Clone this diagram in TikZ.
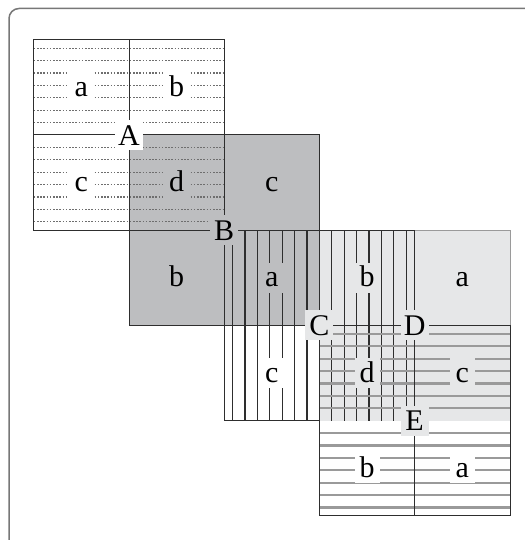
\documentclass[tikz,border=0pt]{standalone}
\usepackage{fontspec}
\setmainfont{Liberation Serif}
\definecolor{dgray}{HTML}{BDBEC0}
\definecolor{lgray}{HTML}{E6E7E8}
\definecolor{edge}{HTML}{2E2E2E}
\definecolor{hatchA}{HTML}{6E6E6E}
\definecolor{hatchC}{HTML}{9A9A9A}
\definecolor{framecol}{HTML}{777777}
\begin{document}
\begin{tikzpicture}[x=1pt,y=-1pt,
  edgeline/.style={draw=edge, line width=1pt},
  lightedge/.style={draw=hatchC, line width=0.8pt},
  dotline/.style={draw=hatchA, line width=1.3pt, dash pattern=on 1.6pt off 1.6pt},
  vline/.style={draw=edge, line width=1.2pt},
  hline/.style={draw=hatchC, line width=2.2pt},
  lbl/.style={inner sep=0pt, minimum width=25pt, minimum height=30pt, text height=18pt, text depth=0pt, font=\fontsize{30}{32}\selectfont},
  caplbl/.style={lbl, minimum width=28pt, minimum height=30pt, text height=20.5pt},
]
\useasboundingbox (0,0) rectangle (524,540);
\draw[framecol, line width=1.5pt, rounded corners=10pt] (9,541) -- (9,8.5) -- (525,8.5);
% fills
\fill[dgray] (129,135) rectangle (319.4,325.4);
\fill[lgray] (319.4,230.2) rectangle (510,420.6);
% square 1: dotted horizontal hatching
\foreach \k in {-7,-6,-5,-4,-3,-2,-1,1,2,3,4,5,6,7}
  \draw[dotline] (33.8,{135+12.4*\k}) -- (224.2,{135+12.4*\k});
\draw[edgeline] (33.8,39.8) rectangle (224.2,230.2);
\draw[edgeline] (33.8,135) -- (224.2,135) (129,39.8) -- (129,230.2);
% square 2
\draw[edgeline] (129,135) rectangle (319.4,325.4);
\draw[edgeline] (129,230.2) -- (319.4,230.2) (224.2,135) -- (224.2,325.4);
% square 3: vertical hatching
\foreach \k in {-7,-6,-5,-4,-3,-2,-1,1,2,3,4,5,6,7}
  \draw[vline] ({319.4+12.4*\k},230.2) -- ({319.4+12.4*\k},420.6);
\draw[edgeline] (319.4,420.6) -- (224.2,420.6) -- (224.2,230.2) -- (414.6,230.2) -- (414.6,420.6);
\draw[edgeline] (224.2,325.4) -- (414.6,325.4) (319.4,230.2) -- (319.4,420.6);
% square 4
\draw[lightedge] (414.6,230.2) -- (510,230.2) -- (510,325.4);
\draw[edgeline] (319.4,325.4) -- (510,325.4) (414.6,230.2) -- (414.6,420.6);
% square 5: grey horizontal hatching
\foreach \k in {-7,-6,-5,-4,-3,-2,-1,1,2,3,4,5,6,7}
  \draw[hline] (319.4,{420.6+12.4*\k}) -- (510,{420.6+12.4*\k});
\draw[edgeline] (319.4,325.4) rectangle (510,515.8);
\draw[edgeline] (414.6,325.4) -- (414.6,515.8);
% centre labels
\node[caplbl, fill=white] (A) at (129,135) {A};
\node[caplbl, fill=dgray] (B) at (224.2,230.2) {B};
\node[caplbl, fill=lgray] (C) at (319.4,325.4) {C};
\node[caplbl, fill=lgray] (D) at (414.6,325.4) {D};
\node[caplbl, fill=lgray] (E) at (414.6,420.6) {E};
% quadrant labels
\node[lbl, fill=white] (s1a) at (81.4,87.4) {a};
\node[lbl, fill=white] (s1b) at (176.6,87.4) {b};
\node[lbl, fill=white] (s1c) at (81.4,182.6) {c};
\node[lbl, fill=dgray] (s1d) at (176.6,182.6) {d};
\node[lbl, fill=dgray] (s2c) at (271.8,182.6) {c};
\node[lbl, fill=dgray] (s2b) at (176.6,277.8) {b};
\node[lbl, fill=dgray] (s2a) at (271.8,277.8) {a};
\node[lbl, fill=lgray] (s3b) at (367,277.8) {b};
\node[lbl, fill=white] (s3c) at (271.8,373) {c};
\node[lbl, fill=lgray] (s3d) at (367,373) {d};
\node[lbl, fill=lgray] (s4a) at (462.3,277.8) {a};
\node[lbl, fill=lgray] (s4c) at (462.3,373) {c};
\node[lbl, fill=white] (s5b) at (367,468.2) {b};
\node[lbl, fill=white] (s5a) at (462.3,468.2) {a};
\end{tikzpicture}
\end{document}
